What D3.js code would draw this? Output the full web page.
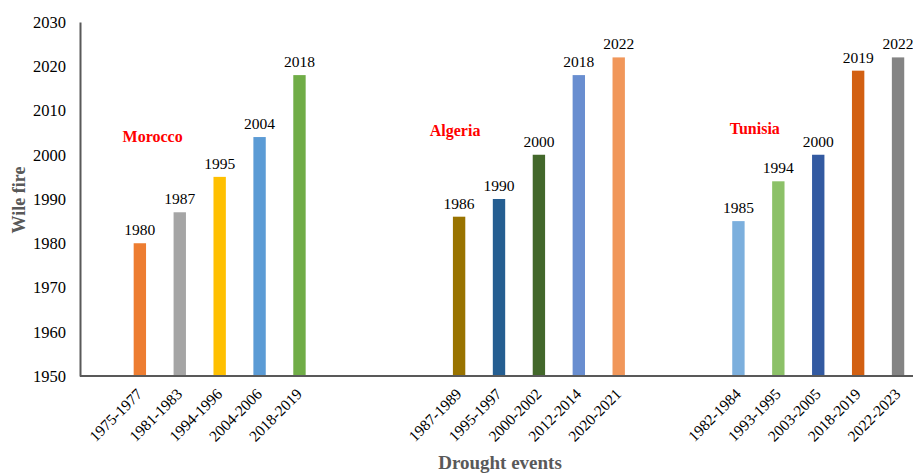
<!DOCTYPE html>
<html>
<head>
<meta charset="utf-8">
<script src="https://cdn.jsdelivr.net/npm/d3@7"></script>
<style>
  html, body { margin: 0; padding: 0; background: #fff; }
  svg { display: block; }
</style>
</head>
<body>
<svg id="chart" width="913" height="473"></svg>
<script>
// ---- Data (blank slots are empty categories as in the original workbook) ----
const categories = [
  "",
  "1975-1977", "1981-1983", "1994-1996", "2004-2006", "2018-2019",
  "", "", "",
  "1987-1989", "1995-1997", "2000-2002", "2012-2014", "2020-2021",
  "", "",
  "1982-1984", "1993-1995", "2003-2005", "2018-2019", "2022-2023"
];
const values = [
  null,
  1980, 1987, 1995, 2004, 2018,
  null, null, null,
  1986, 1990, 2000, 2018, 2022,
  null, null,
  1985, 1994, 2000, 2019, 2022
];
const countries = ["Morocco", "Algeria", "Tunisia"];
const countryFirstSlot = [1, 9, 16];
const yTicks = [1950, 1960, 1970, 1980, 1990, 2000, 2010, 2020, 2030];

// ---- Styles ----
const barColors = [
  "#4472C4",
  "#ED7D31", "#A5A5A5", "#FFC000", "#5B9BD5", "#70AD47",
  "#264478", "#9E480E", "#636363",
  "#997300", "#255E91", "#43682B", "#698ED0", "#F1975A",
  "#B7B7B7", "#FFCD33",
  "#7CAFDD", "#8CC168", "#335AA1", "#D26012", "#848484"
];
const countryLabelOffset = [0.32, -0.1, 0.41]; // in slot steps
const countryLabelYear = [2002.9, 2004.2, 2004.6];
const serif = "'Liberation Serif', 'Times New Roman', serif";

const svg = d3.select("#chart");
const mLeft = 80, mRight = 918, mTop = 22, mBottom = 376;

const slots = d3.range(categories.length);
const x = d3.scaleBand().domain(slots).range([mLeft, mRight])
  .paddingInner(0.69).paddingOuter(0.345);
const y = d3.scaleLinear().domain([1950, 2030]).range([mBottom, mTop]);
const step = x.step();

// Bars
svg.append("g").selectAll("rect")
  .data(slots.filter(i => values[i] != null))
  .join("rect")
  .attr("x", i => x(i))
  .attr("width", x.bandwidth())
  .attr("y", i => y(values[i]))
  .attr("height", i => y(1950) - y(values[i]))
  .attr("fill", i => barColors[i]);

// Value labels
svg.append("g").selectAll("text")
  .data(slots.filter(i => values[i] != null))
  .join("text")
  .attr("x", i => x(i) + x.bandwidth() / 2)
  .attr("y", i => y(values[i]) - 8)
  .attr("text-anchor", "middle")
  .attr("font-family", serif)
  .attr("font-size", 15.5)
  .attr("fill", "#000")
  .text(i => values[i]);

// Y axis
const yAxis = svg.append("g")
  .attr("transform", `translate(${mLeft},0)`)
  .call(d3.axisLeft(y).tickValues(yTicks).tickFormat(d3.format("d")).tickSize(0).tickPadding(14));
yAxis.select(".domain").attr("stroke", "#595959").attr("stroke-width", 2);
yAxis.selectAll("text")
  .attr("font-family", serif).attr("font-size", 16.5).attr("fill", "#000");

// X axis
const xAxis = svg.append("g")
  .attr("transform", `translate(0,${mBottom})`)
  .call(d3.axisBottom(x).tickSize(0).tickFormat(i => categories[i]));
xAxis.select(".domain").remove();
xAxis.append("line")
  .attr("x1", mLeft).attr("x2", 913).attr("y1", 0).attr("y2", 0)
  .attr("stroke", "#595959").attr("stroke-width", 2);
xAxis.selectAll(".tick text")
  .attr("font-family", serif).attr("font-size", 15.5).attr("fill", "#000")
  .attr("text-anchor", "end")
  .attr("dy", null)
  .attr("y", 0)
  .attr("transform", "translate(3.5,19) rotate(-45)");

// Country labels
svg.append("g").selectAll("text")
  .data(countries)
  .join("text")
  .attr("x", (d, k) => x(countryFirstSlot[k]) + x.bandwidth() / 2 + countryLabelOffset[k] * step)
  .attr("y", (d, k) => y(countryLabelYear[k]))
  .attr("text-anchor", "middle")
  .attr("font-family", serif)
  .attr("font-weight", "bold")
  .attr("font-size", 16)
  .attr("fill", "#FF0000")
  .text(d => d);

// Axis titles
svg.append("text")
  .attr("transform", `translate(25,${(mTop + mBottom) / 2 + 1}) rotate(-90)`)
  .attr("text-anchor", "middle")
  .attr("font-family", serif).attr("font-weight", "bold").attr("font-size", 18)
  .attr("fill", "#595959")
  .text("Wile fire");

svg.append("text")
  .attr("x", 500).attr("y", 469)
  .attr("text-anchor", "middle")
  .attr("font-family", serif).attr("font-weight", "bold").attr("font-size", 19)
  .attr("fill", "#595959")
  .text("Drought events");
</script>
</body>
</html>
